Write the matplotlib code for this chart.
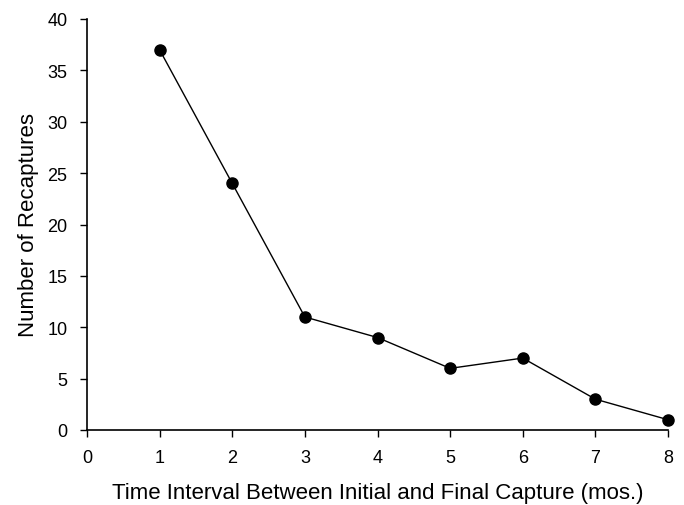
import matplotlib.pyplot as plt

plt.rcParams["font.family"] = ["Liberation Sans", "DejaVu Sans"]

intervalles = [1, 2, 3, 4, 5, 6, 7, 8]
recaptures = [37, 24, 11, 9, 6, 7, 3, 1]

fig = plt.figure(figsize=(6.84, 5.06), dpi=100)
ax = fig.add_axes([87 / 684, 75 / 506, 581 / 684, 411 / 506])

ax.plot(intervalles, recaptures, color="black", linewidth=1.0,
        marker="o", markersize=8, markerfacecolor="black", clip_on=False)

ax.set_xlim(0, 8)
ax.set_ylim(0, 40)
ax.set_xticks(range(0, 9))
ax.set_yticks(range(0, 41, 5))

ax.spines["top"].set_visible(False)
ax.spines["right"].set_visible(False)
ax.spines["left"].set_linewidth(1.2)
ax.spines["bottom"].set_linewidth(1.2)
ax.tick_params(direction="out", length=5, width=1, labelsize=13, pad=9)

ax.set_xlabel("Time Interval Between Initial and Final Capture (mos.)", fontsize=16, labelpad=11)
ax.set_ylabel("Number of Recaptures", fontsize=16, labelpad=6)

fig.savefig("out.png", dpi=100)
